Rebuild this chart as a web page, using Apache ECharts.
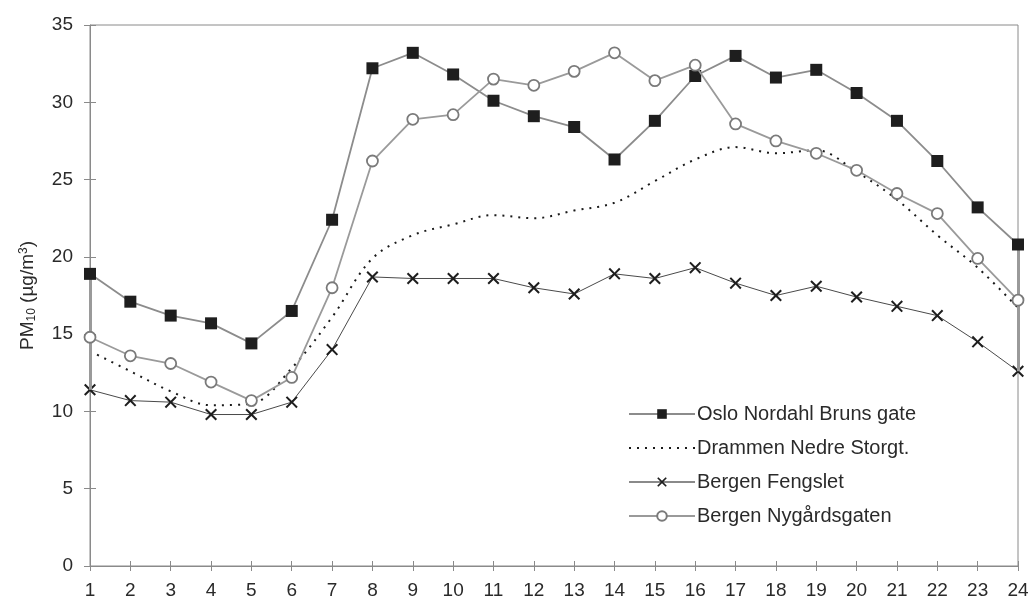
<!DOCTYPE html>
<html>
<head>
<meta charset="utf-8">
<script src="https://cdn.jsdelivr.net/npm/echarts@6/dist/echarts.min.js"></script>
<style>html,body{margin:0;padding:0;background:#fff}#c{width:1033px;height:608px}</style>
</head>
<body>
<div id="c"></div>
<script>
var hours = ['1','2','3','4','5','6','7','8','9','10','11','12','13','14','15','16','17','18','19','20','21','22','23','24'];
var osloNordahlBruns = [18.9,17.1,16.2,15.7,14.4,16.5,22.4,32.2,33.2,31.8,30.1,29.1,28.4,26.3,28.8,31.7,33.0,31.6,32.1,30.6,28.8,26.2,23.2,20.8];
var drammenNedreStorgt = [13.9,12.6,11.3,10.4,10.5,12.8,16.1,19.9,21.4,22.1,22.7,22.5,23.0,23.5,24.9,26.3,27.1,26.7,26.9,25.5,23.7,21.4,19.3,16.7];
var bergenFengslet = [11.4,10.7,10.6,9.8,9.8,10.6,14.0,18.7,18.6,18.6,18.6,18.0,17.6,18.9,18.6,19.3,18.3,17.5,18.1,17.4,16.8,16.2,14.5,12.6];
var bergenNygardsgaten = [14.8,13.6,13.1,11.9,10.7,12.2,18.0,26.2,28.9,29.2,31.5,31.1,32.0,33.2,31.4,32.4,28.6,27.5,26.7,25.6,24.1,22.8,19.9,17.2];
var seriesNames = ['Oslo Nordahl Bruns gate','Drammen Nedre Storgt.','Bergen Fengslet','Bergen Nygårdsgaten'];

var allSeries = [osloNordahlBruns, drammenNedreStorgt, bergenFengslet, bergenNygardsgaten];
function colMax(i){return Math.max.apply(null, allSeries.map(function(s){return s[i];}));}
function colMin(i){return Math.min.apply(null, allSeries.map(function(s){return s[i];}));}
var last = hours.length - 1;

var FONT = 'Liberation Sans, Arial, sans-serif';
var xShape = 'path://M0,1.2L1.2,0L5,3.8L8.8,0L10,1.2L6.2,5L10,8.8L8.8,10L5,6.2L1.2,10L0,8.8L3.8,5Z';

var chart = echarts.init(document.getElementById('c'), null, {renderer:'canvas'});
chart.setOption({
  animation: false,
  backgroundColor: '#fff',
  grid: {left: 90, right: 15, top: 25, bottom: 42, show: true, borderColor: '#8a8a8a', borderWidth: 1},
  legend: {
    orient: 'vertical', left: 623, top: 399,
    itemWidth: 66, itemHeight: 12, itemGap: 14,
    textStyle: {fontFamily: FONT, fontSize: 20, color: '#2a2a2a', padding: [0,0,0,-3]},
    data: [
      {name: seriesNames[0]},
      {name: seriesNames[1], itemStyle: {opacity: 0}},
      {name: seriesNames[2], lineStyle: {color: '#8a8a8a'}},
      {name: seriesNames[3]}
    ]
  },
  xAxis: [{
    type: 'category', data: hours, boundaryGap: false,
    axisLine: {lineStyle: {color: '#8a8a8a', width: 1}},
    axisTick: {alignWithLabel: true, length: 5, lineStyle: {color: '#8a8a8a'}},
    axisLabel: {fontFamily: FONT, fontSize: 19, color: '#2a2a2a', margin: 15},
    splitLine: {show: false}
  },{
    type: 'category', data: hours, boundaryGap: false, position: 'bottom',
    axisLine: {show: false},
    axisTick: {inside: true, length: 5, lineStyle: {color: '#8a8a8a'}},
    axisLabel: {show: false}, splitLine: {show: false}
  }],
  yAxis: [{
    type: 'value', min: 0, max: 35, interval: 5,
    name: '{m|PM}{s|10}{m| (µg/m}{u|3}{m|)}',
    nameLocation: 'middle', nameGap: 45, nameRotate: 90,
    nameTextStyle: {
      fontFamily: FONT, fontSize: 19, color: '#2a2a2a',
      rich: {
        m: {fontFamily: FONT, fontSize: 19, color: '#2a2a2a', lineHeight: 26, verticalAlign: 'middle'},
        s: {fontFamily: FONT, fontSize: 12, color: '#2a2a2a', lineHeight: 26, verticalAlign: 'bottom', padding: [0,0,3,0]},
        u: {fontFamily: FONT, fontSize: 12, color: '#2a2a2a', lineHeight: 26, verticalAlign: 'top', padding: [3,0,0,0]}
      }
    },
    axisLine: {show: true, lineStyle: {color: '#8a8a8a', width: 1}},
    axisTick: {show: true, length: 6, lineStyle: {color: '#8a8a8a'}},
    axisLabel: {fontFamily: FONT, fontSize: 19, color: '#2a2a2a', margin: 17},
    splitLine: {show: false}
  },{
    type: 'value', min: 0, max: 35, interval: 5, position: 'left',
    axisLine: {show: false},
    axisTick: {show: true, inside: true, length: 6, lineStyle: {color: '#8a8a8a'}},
    axisLabel: {show: false}, splitLine: {show: false}
  }],
  series: [
    {
      name: seriesNames[0], type: 'line', data: osloNordahlBruns,
      symbol: 'rect', symbolSize: 12,
      lineStyle: {color: '#8c8c8c', width: 1.8},
      itemStyle: {color: '#1e1e1e', borderColor: '#1e1e1e', borderWidth: 0},
      z: 5,
      markLine: {
        silent: true, symbol: 'none', label: {show: false},
        lineStyle: {color: '#9a9a9a', width: 3, type: 'solid'},
        data: [
          [{coord: [0, colMax(0)]}, {coord: [0, colMin(0)]}],
          [{coord: [last, colMax(last)]}, {coord: [last, colMin(last)]}]
        ]
      }
    },
    {
      name: seriesNames[1], type: 'line', data: drammenNedreStorgt,
      symbol: 'none', smooth: 0.35,
      lineStyle: {color: '#1a1a1a', width: 2, type: [2, 6]},
      itemStyle: {color: '#1a1a1a'},
      z: 3
    },
    {
      name: seriesNames[2], type: 'line', data: bergenFengslet,
      symbol: xShape, symbolSize: 12,
      lineStyle: {color: '#4a4a4a', width: 1},
      itemStyle: {color: '#1e1e1e', borderWidth: 0},
      z: 4
    },
    {
      name: seriesNames[3], type: 'line', data: bergenNygardsgaten,
      symbol: 'circle', symbolSize: 11,
      lineStyle: {color: '#9a9a9a', width: 1.8},
      itemStyle: {color: '#ffffff', borderColor: '#7a7a7a', borderWidth: 1.8},
      z: 6
    }
  ]
});
</script>
</body>
</html>
